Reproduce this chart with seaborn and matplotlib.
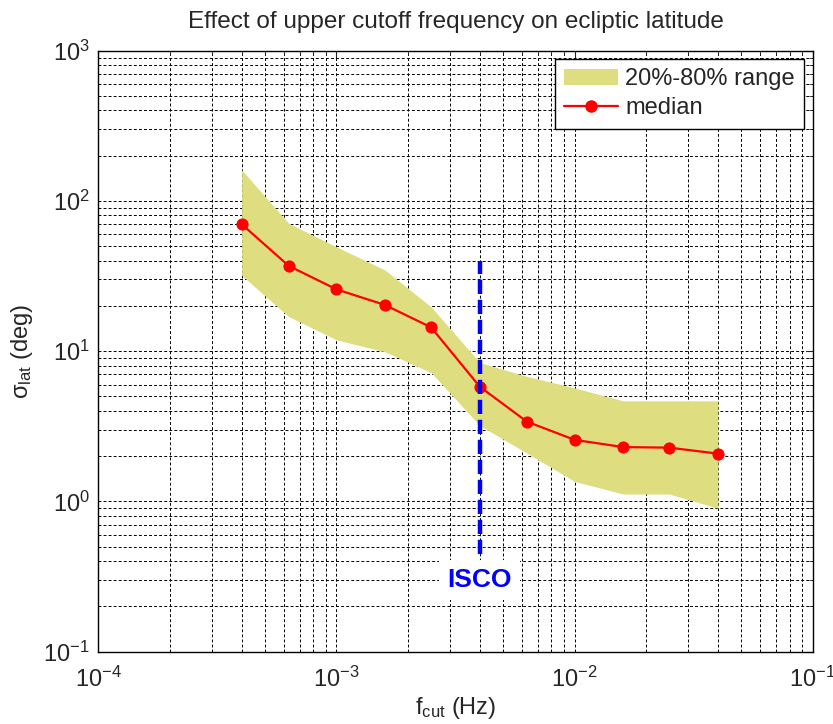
import numpy as np
import pandas as pd
import matplotlib
matplotlib.use("Agg")
import matplotlib.pyplot as plt
import seaborn as sns
from matplotlib.patches import Patch
from matplotlib.lines import Line2D
from matplotlib.ticker import LogLocator

# ---- data ----
f_cut = [4.0e-4, 6.3e-4, 1.0e-3, 1.6e-3, 2.5e-3, 4.0e-3, 6.3e-3, 1.0e-2, 1.6e-2, 2.5e-2, 4.0e-2]
sigma_median = [70, 37, 25.8, 20.3, 14.4, 5.8, 3.4, 2.57, 2.3, 2.28, 2.08]
sigma_p80 = [161, 71, 49.5, 34.7, 19.7, 8.4, 6.8, 5.7, 4.67, 4.67, 4.67]
sigma_p20 = [32, 17, 11.9, 9.9, 7.2, 3.2, 2.1, 1.36, 1.12, 1.12, 0.9]
isco_f = 4.0e-3
isco_span = [0.45, 40]
isco_text_y = 0.30

df = pd.DataFrame({"f": f_cut, "median": sigma_median})

sns.set_style("white")
plt.rcParams["font.family"] = ["Liberation Sans", "DejaVu Sans"]
plt.rcParams["mathtext.fontset"] = "custom"
plt.rcParams["mathtext.rm"] = "Liberation Sans"
plt.rcParams["mathtext.it"] = "Liberation Sans:italic"
plt.rcParams["mathtext.bf"] = "Liberation Sans:bold"
plt.rcParams["axes.unicode_minus"] = False

fig = plt.figure(figsize=(8.33, 7.24), dpi=100)
ax = fig.add_axes([0.118, 0.0999, 0.8576, 0.8301])

band_color = "#dede80"
ax.fill_between(f_cut, sigma_p20, sigma_p80, color=band_color, linewidth=0, zorder=2)
sns.lineplot(data=df, x="f", y="median", ax=ax, color="red", marker="o",
             markersize=8, linewidth=1.6, markeredgecolor="red", zorder=4)

ax.plot([isco_f, isco_f], isco_span, color="blue", linewidth=3.2,
        dashes=(3.2, 1.3), zorder=5)
ax.text(isco_f, isco_text_y, "ISCO", color="blue", fontsize=19, fontweight="bold",
        ha="center", va="center", zorder=6,
        bbox=dict(facecolor="white", edgecolor="none", pad=6))

ax.set_xscale("log")
ax.set_yscale("log")
ax.set_xlim(1e-4, 1e-1)
ax.set_ylim(1e-1, 1e3)
ax.xaxis.set_major_locator(LogLocator(base=10, numticks=10))
ax.yaxis.set_major_locator(LogLocator(base=10, numticks=10))
ax.xaxis.set_minor_locator(LogLocator(base=10, subs=np.arange(2, 10), numticks=20))
ax.yaxis.set_minor_locator(LogLocator(base=10, subs=np.arange(2, 10), numticks=20))

ax.set_axisbelow(True)
ax.grid(True, which="both", color="black", linestyle=(0, (3, 2.2)), linewidth=0.7)

for s in ax.spines.values():
    s.set_visible(True)
    s.set_color("black")
    s.set_linewidth(1.0)

ax.tick_params(which="both", direction="in", top=True, right=True, labelsize=17)
ax.tick_params(which="major", length=5)
ax.tick_params(which="minor", length=3)
ax.tick_params(axis="x", pad=11)
ax.tick_params(axis="y", pad=6)

ax.set_title("Effect of upper cutoff frequency on ecliptic latitude", fontsize=17.5, pad=16)
ax.set_xlabel(r"f$_{\mathregular{cut}}$ (Hz)", fontsize=17, labelpad=2)
ax.set_ylabel(r"σ$_{\mathregular{lat}}$ (deg)", fontsize=17, labelpad=6)

handles = [Patch(facecolor=band_color, edgecolor="none"),
           Line2D([0], [0], color="red", marker="o", markersize=8, linewidth=1.6)]
leg = ax.legend(handles, ["20%-80% range", "median"], loc="upper right",
                fontsize=17, frameon=True, fancybox=False, framealpha=1,
                edgecolor="black", borderaxespad=0.35, handlelength=2.3,
                handletextpad=0.3, borderpad=0.4, labelspacing=0.3)
leg.get_frame().set_linewidth(1.0)
leg.set_zorder(10)

fig.savefig("out.png", dpi=100, facecolor="white")
